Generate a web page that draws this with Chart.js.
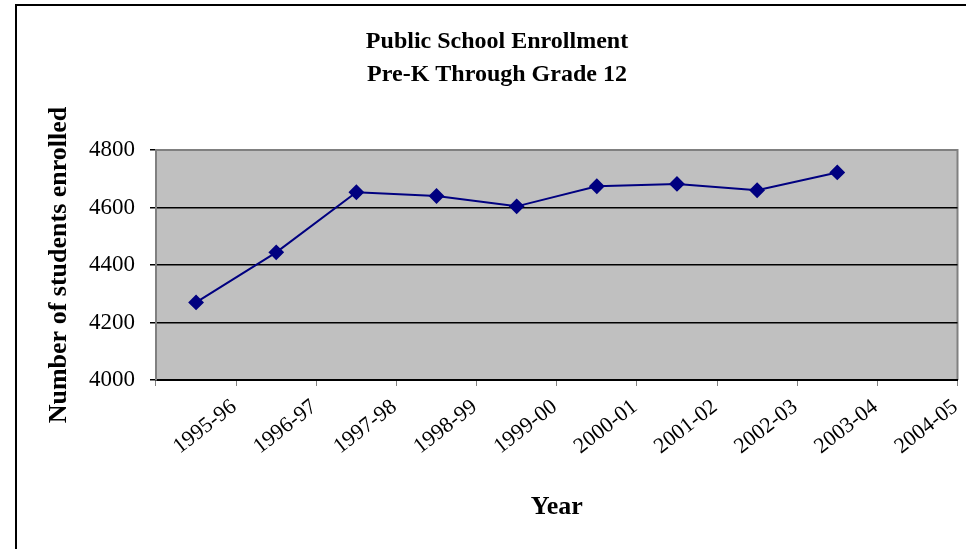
<!DOCTYPE html>
<html>
<head>
<meta charset="utf-8">
<script src="https://cdn.jsdelivr.net/npm/chart.js@4/dist/chart.umd.min.js"></script>
<style>
  html, body { margin: 0; padding: 0; background: #fff; }
  #wrap { width: 966px; height: 549px; }
</style>
</head>
<body>
<div id="wrap"><canvas id="line-chart"></canvas></div>
<script>
var years = ['1995-96', '1996-97', '1997-98', '1998-99', '1999-00',
  '2000-01', '2001-02', '2002-03', '2003-04', '2004-05']
var enrolled = [4270, 4444, 4653, 4640, 4604, 4674, 4682, 4660, 4722, null]
var yTicks = [4000, 4200, 4400, 4600, 4800]

var serif = "'Liberation Serif', 'Times New Roman', serif"

// grey plot area + outer frame, like the old spreadsheet chart
var plotBg = {
  id: 'plotBg',
  beforeDraw: function (chart) {
    var c = chart.ctx, a = chart.chartArea
    c.save()
    c.fillStyle = '#fff'
    c.fillRect(0, 0, chart.width, chart.height)
    c.strokeStyle = '#000'
    c.lineWidth = 2
    c.beginPath()
    c.moveTo(16, chart.height + 2)
    c.lineTo(16, 5)
    c.lineTo(chart.width + 2, 5)
    c.stroke()
    c.fillStyle = '#c0c0c0'
    c.fillRect(a.left, a.top, a.right - a.left, a.bottom - a.top)
    c.strokeStyle = '#808080'
    c.lineWidth = 2
    c.beginPath()
    c.moveTo(a.left, a.top)
    c.lineTo(a.right, a.top)
    c.lineTo(a.right, a.bottom)
    c.stroke()
    c.restore()
  }
}

var ctx = document.getElementById('line-chart').getContext('2d')
var chart = new Chart(ctx, {
  type: 'line',
  data: {
    labels: years,
    datasets: [{
      data: enrolled,
      borderColor: '#000080',
      backgroundColor: '#000080',
      borderWidth: 2,
      pointStyle: 'rectRot',
      pointRadius: 6.5,
      pointHoverRadius: 6.5,
      fill: false,
      tension: 0
    }]
  },
  options: {
    responsive: true,
    maintainAspectRatio: false,
    animation: false,
    layout: { padding: { left: 36, right: 8, top: 0, bottom: 26 } },
    plugins: {
      legend: { display: false },
      tooltip: { enabled: false },
      title: {
        display: true,
        text: ['Public School Enrollment', 'Pre-K Through Grade 12'],
        color: '#000',
        font: { family: serif, size: 24, weight: 'bold', lineHeight: 1.375 },
        padding: { top: 25, bottom: 59 }
      }
    },
    scales: {
      x: {
        offset: true,
        grid: {
          offset: true,
          drawOnChartArea: false,
          drawTicks: true,
          tickLength: 6,
          color: '#808080'
        },
        border: { color: '#000', width: 2 },
        ticks: {
          color: '#000',
          font: { family: serif, size: 22 },
          minRotation: 38,
          maxRotation: 38,
          autoSkip: false,
          labelOffset: 38,
          padding: 8
        },
        title: {
          display: true,
          text: 'Year',
          color: '#000',
          font: { family: serif, size: 26, weight: 'bold' },
          padding: { top: 0, bottom: 0 }
        },
        afterFit: function (s) { s.height = 143 }
      },
      y: {
        min: 4000,
        max: 4800,
        afterBuildTicks: function (s) {
          s.ticks = yTicks.map(function (v) { return { value: v } })
        },
        grid: {
          color: function (c) { return c.tick && c.tick.value === 4800 ? '#808080' : '#000' },
          lineWidth: 1.5,
          tickLength: 6,
          tickColor: '#000'
        },
        border: { color: '#808080', width: 2 },
        ticks: {
          color: '#000',
          font: { family: serif, size: 23 },
          padding: 15,
          callback: function (v) { return String(v) }
        },
        title: {
          display: true,
          text: 'Number of students enrolled',
          color: '#000',
          font: { family: serif, size: 26, weight: 'bold' },
          padding: { top: 8, bottom: 0 }
        },
        afterFit: function (s) { s.width = 120 }
      }
    }
  },
  plugins: [plotBg]
})
</script>
</body>
</html>
